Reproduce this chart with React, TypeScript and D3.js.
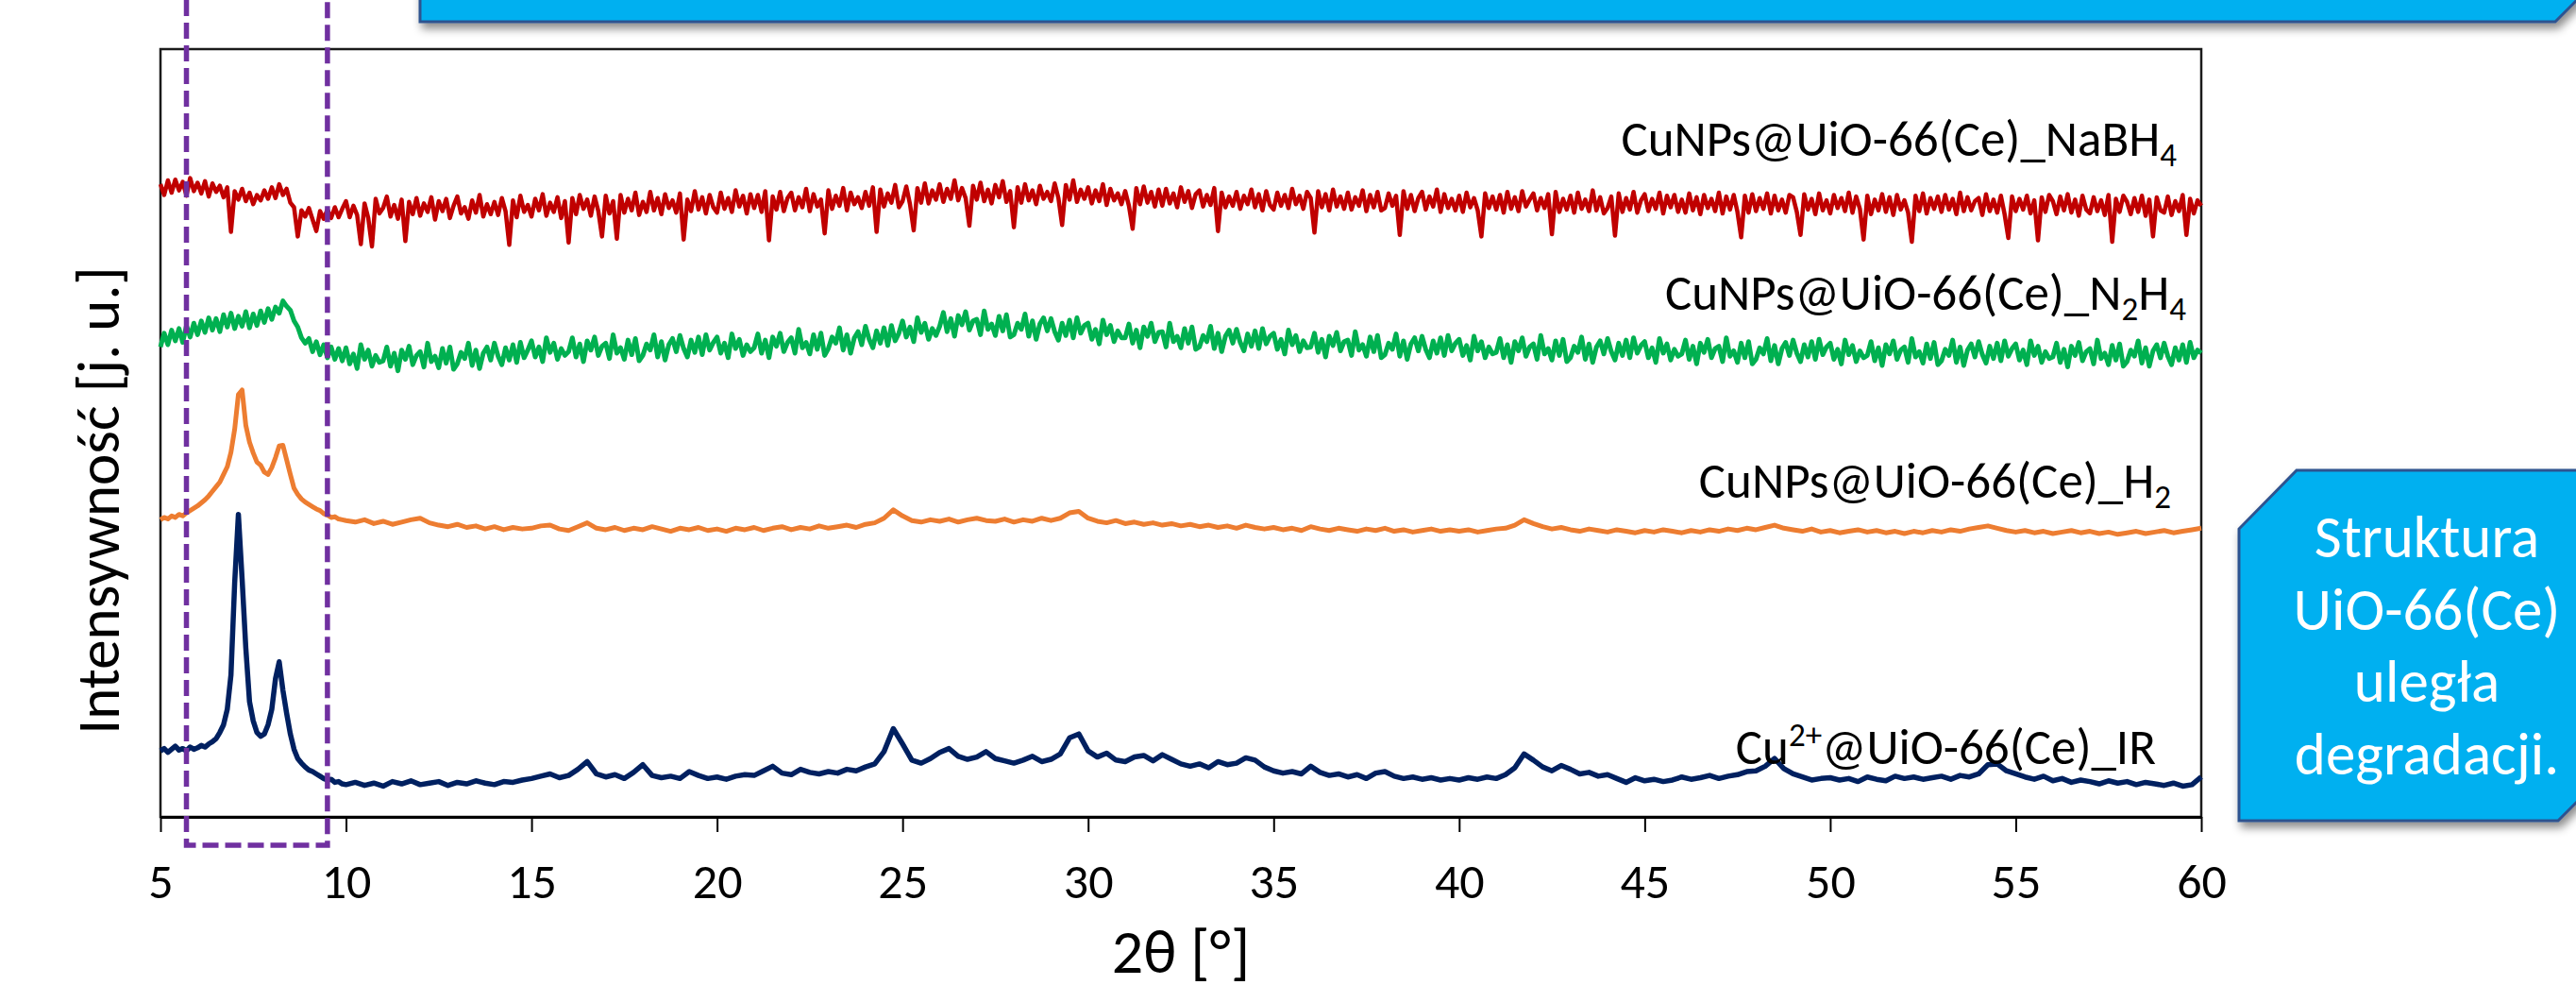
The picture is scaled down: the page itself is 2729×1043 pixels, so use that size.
import React, { useEffect, useRef } from 'react';
import * as d3 from 'd3';

// 2θ sampling. Noisy patterns (NaBH4, N2H4) are read every 0.1°;
// the smoother ones (H2, IR) every 0.1° up to 10° and every 0.25° above.
const gridStart = 5;
const fineStep = 0.1;
const fineCount = 50;
const coarseStart = 10;
const coarseStep = 0.25;

const xTicks = [5, 10, 15, 20, 25, 30, 35, 40, 45, 50, 55, 60];

// intensities in a.u. (stacked as plotted, 0 = bottom axis, 100 = top of frame)
const irValues = [
  8.6, 8.9, 8.4, 8.8, 9.2, 8.7, 8.9, 8.6, 9.1, 8.8,
  9.0, 9.3, 9.1, 9.5, 9.8, 10.2, 11.0, 12.0, 14.0, 18.5,
  30.5, 39.4, 31.0, 22.0, 15.0, 12.5, 11.0, 10.5, 10.8, 12.0,
  14.0, 18.0, 20.2, 16.5, 13.5, 10.8, 8.8, 7.6, 7.0, 6.5,
  6.1, 5.9, 5.6, 5.3, 5.0, 4.8, 4.9, 4.5, 4.6, 4.3,
  4.2, 4.5, 4.1, 4.4, 4.0, 4.6, 4.3, 4.7, 4.2, 4.4, 4.6, 4.1, 4.5, 4.3, 4.7, 4.4, 4.2, 4.6, 4.5, 4.8,
  5.0, 5.3, 5.6, 5.1, 5.4, 6.2, 7.2, 5.6, 5.2, 5.5, 5.0, 5.8, 6.8, 5.4, 5.1, 5.3, 5.0, 5.9, 5.4, 5.0,
  5.2, 4.9, 5.3, 5.5, 5.4, 6.0, 6.6, 5.7, 5.5, 6.2, 5.8, 5.6, 5.9, 5.7, 6.2, 6.0, 6.5, 6.9, 8.5, 11.5,
  9.5, 7.4, 7.0, 7.6, 8.4, 8.9, 7.9, 7.5, 7.8, 8.5, 7.6, 7.3, 7.0, 7.4, 7.9, 7.2, 7.5, 8.2, 10.3, 10.8,
  8.6, 7.8, 8.3, 7.4, 7.2, 7.8, 8.0, 7.3, 8.1, 7.5, 6.9, 6.6, 6.9, 6.4, 7.2, 6.8, 7.0, 7.7, 7.4, 6.5,
  6.0, 5.7, 5.9, 5.6, 6.6, 5.8, 5.4, 5.6, 5.2, 5.5, 5.0, 5.7, 5.9, 5.3, 5.0, 5.2, 4.9, 5.1, 4.8, 5.0,
  4.8, 5.1, 4.9, 5.2, 5.0, 5.5, 6.4, 8.2, 7.4, 6.5, 6.0, 6.7, 6.2, 5.6, 5.8, 5.3, 5.5, 5.0, 4.5, 5.1,
  4.7, 4.9, 4.6, 4.8, 5.2, 4.9, 5.1, 5.4, 5.0, 5.3, 5.5, 5.9, 6.0, 6.6, 7.6, 6.3, 5.6, 5.2, 4.8, 5.0,
  5.1, 4.8, 5.0, 4.6, 5.2, 4.9, 4.7, 5.3, 5.0, 5.2, 4.9, 5.1, 5.3, 4.9, 5.4, 5.2, 5.6, 6.8, 6.9, 6.0,
  5.6, 5.2, 4.9, 5.3, 4.7, 5.0, 4.5, 4.8, 4.6, 4.3, 4.7, 4.4, 4.6, 4.2, 4.5, 4.3, 4.1, 4.4, 4.0, 4.2,
  5.2,
];

const h2Values = [
  38.7, 39.0, 38.8, 39.2, 39.0, 39.4, 39.2, 39.6, 39.9, 40.2,
  40.5, 40.9, 41.3, 41.8, 42.4, 43.0, 43.6, 44.6, 45.6, 47.5,
  50.5, 55.0, 55.6, 51.0, 48.8, 47.4, 46.2, 45.8, 44.9, 44.6,
  45.5, 46.8, 48.3, 48.4, 46.5, 44.6, 42.8, 42.0, 41.4, 41.0,
  40.7, 40.4, 40.1, 39.9, 39.5, 39.3, 39.0, 39.1, 38.8, 38.7,
  38.6, 38.4, 38.7, 38.2, 38.5, 38.1, 38.4, 38.7, 38.9, 38.3, 38.0, 37.8, 38.1, 37.7, 37.9, 37.5, 37.8, 37.4, 37.7, 37.5,
  37.6, 37.9, 38.0, 37.5, 37.3, 37.8, 38.3, 37.6, 37.4, 37.7, 37.3, 37.6, 37.4, 37.8, 37.5, 37.2, 37.6, 37.4, 37.7, 37.3,
  37.5, 37.2, 37.6, 37.4, 37.7, 37.3, 37.6, 37.8, 37.4, 37.7, 37.5, 37.9, 37.6, 37.8, 38.0, 37.7, 38.1, 38.3, 38.9, 40.0,
  39.2, 38.6, 38.4, 38.7, 38.5, 38.8, 38.4, 38.7, 38.9, 38.6, 38.5, 38.8, 38.4, 38.7, 38.5, 38.9, 38.6, 38.9, 39.6, 39.8,
  38.9, 38.5, 38.3, 38.6, 38.2, 38.4, 38.1, 38.3, 38.0, 38.2, 37.9, 38.1, 37.8, 38.0, 37.7, 37.9, 37.6, 38.0, 37.7, 37.5,
  37.7, 37.4, 37.6, 37.3, 37.8, 37.5, 37.3, 37.6, 37.4, 37.2, 37.5, 37.3, 37.6, 37.2, 37.4, 37.1, 37.3, 37.5, 37.2, 37.4,
  37.2, 37.4, 37.1, 37.3, 37.5, 37.6, 38.0, 38.7, 38.2, 37.8, 37.5, 37.7, 37.4, 37.2, 37.5, 37.3, 37.1, 37.4, 37.2, 37.0,
  37.3, 37.1, 37.4, 37.2, 37.0, 37.3, 37.1, 37.4, 37.2, 37.5, 37.3, 37.6, 37.4, 37.7, 38.0, 37.6, 37.4, 37.2, 37.5, 37.1,
  37.3, 37.0, 37.2, 37.4, 37.1, 37.3, 37.0, 37.2, 36.9, 37.2, 37.0, 37.3, 37.1, 37.4, 37.2, 37.5, 37.7, 37.9, 37.6, 37.3,
  37.1, 37.3, 37.0, 37.2, 36.9, 37.1, 37.3, 37.0, 37.2, 36.9, 37.1, 36.8, 37.0, 37.2, 36.9, 37.1, 37.3, 37.0, 37.2, 37.4,
  37.6,
];

// one row per degree (0.1° steps), from 5° to 60°
const n2h4Values = [
  61.2, 63.0, 61.5, 63.4, 62.0, 63.6, 61.8, 64.0, 62.5, 64.3,
  62.8, 64.6, 63.1, 65.0, 63.4, 64.9, 63.2, 65.4, 63.8, 65.6,
  63.6, 65.2, 63.9, 65.8, 63.7, 65.5, 64.0, 65.9, 64.4, 66.2,
  64.8, 66.4, 65.6, 67.2, 66.5, 66.0, 64.6, 63.8, 62.4, 61.7,
  62.3, 60.6, 61.9, 60.2, 61.5, 59.8, 61.2, 59.6, 61.0, 59.4,
  61.1, 59.0, 60.3, 58.4, 61.5, 59.6, 60.8, 58.7, 60.1, 59.2,
  59.4, 61.2, 58.7, 60.4, 58.1, 60.8, 59.6, 61.3, 58.9, 60.1,
  60.6, 58.6, 61.7, 59.3, 60.0, 58.5, 61.0, 59.1, 61.2, 58.3,
  59.0, 60.5, 59.7, 61.7, 58.8, 60.8, 58.4, 60.4, 61.2, 59.5,
  61.7, 60.0, 58.9, 61.1, 59.5, 61.5, 59.2, 61.8, 59.8, 60.8,
  62.0, 59.9, 61.2, 59.3, 62.4, 60.5, 61.7, 59.6, 61.0, 60.1,
  60.6, 62.4, 59.9, 61.6, 59.3, 62.0, 60.8, 62.5, 60.1, 61.3,
  61.7, 59.7, 62.8, 60.4, 61.1, 59.6, 62.1, 60.2, 62.3, 59.4,
  60.1, 61.6, 60.8, 62.8, 59.9, 61.9, 59.5, 61.5, 62.3, 60.6,
  62.7, 61.0, 59.9, 62.1, 60.5, 62.5, 60.2, 62.8, 60.8, 61.8,
  62.5, 60.4, 61.7, 59.8, 62.9, 61.0, 62.2, 60.1, 61.5, 60.6,
  61.1, 62.9, 60.4, 62.1, 59.8, 62.5, 61.3, 63.0, 60.6, 61.8,
  62.4, 60.4, 63.5, 61.1, 61.8, 60.3, 62.8, 60.9, 63.0, 60.1,
  61.0, 62.5, 61.7, 63.7, 60.8, 62.8, 60.4, 62.4, 63.2, 61.5,
  63.9, 62.2, 61.1, 63.3, 61.7, 63.7, 61.4, 64.0, 62.0, 63.0,
  64.6, 62.5, 63.8, 61.9, 65.0, 63.1, 64.3, 62.2, 63.6, 62.7,
  63.9, 65.7, 63.2, 64.9, 62.6, 65.3, 64.1, 65.8, 63.4, 64.6,
  64.8, 62.8, 65.9, 63.5, 64.2, 62.7, 65.2, 63.3, 65.4, 62.5,
  62.8, 64.3, 63.5, 65.5, 62.6, 64.6, 62.2, 64.2, 65.0, 63.3,
  64.9, 63.2, 62.1, 64.3, 62.7, 64.7, 62.4, 65.0, 63.0, 64.0,
  64.3, 62.2, 63.5, 61.6, 64.7, 62.8, 64.0, 61.9, 63.3, 62.4,
  62.4, 64.2, 61.7, 63.4, 61.1, 63.8, 62.6, 64.3, 61.9, 63.1,
  63.2, 61.2, 64.3, 61.9, 62.6, 61.1, 63.6, 61.7, 63.8, 60.9,
  61.2, 62.7, 61.9, 63.9, 61.0, 63.0, 60.6, 62.6, 63.4, 61.7,
  63.5, 61.8, 60.7, 62.9, 61.3, 63.3, 61.0, 63.6, 61.6, 62.6,
  63.0, 60.9, 62.2, 60.3, 63.4, 61.5, 62.7, 60.6, 62.0, 61.1,
  61.2, 63.0, 60.5, 62.2, 59.9, 62.6, 61.4, 63.1, 60.7, 61.9,
  62.1, 60.1, 63.2, 60.8, 61.5, 60.0, 62.5, 60.6, 62.7, 59.8,
  60.2, 61.7, 60.9, 62.9, 60.0, 62.0, 59.6, 61.6, 62.4, 60.7,
  62.6, 60.9, 59.8, 62.0, 60.4, 62.4, 60.1, 62.7, 60.7, 61.7,
  62.2, 60.1, 61.4, 59.5, 62.6, 60.7, 61.9, 59.8, 61.2, 60.3,
  60.5, 62.3, 59.8, 61.5, 59.2, 61.9, 60.7, 62.4, 60.0, 61.2,
  61.6, 59.6, 62.7, 60.3, 61.0, 59.5, 62.0, 60.1, 62.2, 59.3,
  59.8, 61.3, 60.5, 62.5, 59.6, 61.6, 59.2, 61.2, 62.0, 60.3,
  62.3, 60.6, 59.5, 61.7, 60.1, 62.1, 59.8, 62.4, 60.4, 61.4,
  61.9, 59.8, 61.1, 59.2, 62.3, 60.4, 61.6, 59.5, 60.9, 60.0,
  60.3, 62.1, 59.6, 61.3, 59.0, 61.7, 60.5, 62.2, 59.8, 61.0,
  61.3, 59.3, 62.4, 60.0, 60.7, 59.2, 61.7, 59.8, 61.9, 59.0,
  59.6, 61.1, 60.3, 62.3, 59.4, 61.4, 59.0, 61.0, 61.8, 60.1,
  62.1, 60.4, 59.3, 61.5, 59.9, 61.9, 59.6, 62.2, 60.2, 61.2,
  61.7, 59.6, 60.9, 59.0, 62.1, 60.2, 61.4, 59.3, 60.7, 59.8,
  60.1, 61.9, 59.4, 61.1, 58.8, 61.5, 60.3, 62.0, 59.6, 60.8,
  61.2, 59.2, 62.3, 59.9, 60.6, 59.1, 61.6, 59.7, 61.8, 58.9,
  59.4, 60.9, 60.1, 62.1, 59.2, 61.2, 58.8, 60.8, 61.6, 59.9,
  61.9, 60.2, 59.1, 61.3, 59.7, 61.7, 59.4, 62.0, 60.0, 61.0,
  61.6, 59.5, 60.8, 58.9, 62.0, 60.1, 61.3, 59.2, 60.6, 59.7,
  59.9, 61.7, 59.2, 60.9, 58.6, 61.3, 60.1, 61.8, 59.4, 60.6,
  61.0, 59.0, 62.1, 59.7, 60.4, 58.9, 61.4, 59.5, 61.6, 58.7,
  59.3, 60.8, 60.0, 62.0, 59.1, 61.1, 58.7, 60.7, 61.5, 59.8,
  61.7, 60.0, 58.9, 61.1, 59.5, 61.5, 59.2, 61.8, 59.8, 60.8,
  60.4,
];

const nabh4Values = [
  82.4, 81.0, 82.9, 81.3, 83.0, 81.6, 82.7, 80.9, 83.2, 81.5,
  82.6, 81.2, 82.8, 80.8, 82.5, 81.4, 82.2, 80.7, 82.0, 76.2,
  81.5, 80.4, 81.8, 80.2, 81.3, 79.8, 81.0, 80.3, 81.6, 80.5,
  82.0, 80.6, 82.4, 81.0, 81.8, 80.0, 79.4, 75.6, 79.0, 78.2,
  79.3, 77.8, 76.3, 78.9, 77.9, 79.1, 78.0, 79.4, 78.1, 79.2,
  80.2, 78.1, 79.6, 78.4, 74.6, 79.9, 78.0, 74.3, 80.5, 78.6,
  79.3, 80.8, 78.2, 79.7, 77.9, 80.4, 75.0, 80.1, 78.5, 80.6,
  78.3, 79.9, 78.8, 80.7, 77.8, 80.2, 78.9, 80.5, 78.0, 79.6,
  80.8, 78.6, 79.4, 77.9, 80.3, 78.7, 81.0, 78.2, 79.8, 78.5,
  80.1, 78.4, 80.6, 78.9, 74.5, 80.3, 78.1, 80.9, 78.8, 79.7,
  78.2, 80.5, 79.0, 81.1, 78.3, 80.0, 78.8, 80.7, 78.0, 80.2,
  74.8, 80.6, 78.5, 81.0, 79.2, 80.4, 78.3, 80.8, 78.9, 75.6,
  80.9, 78.6, 80.2, 75.3, 81.0, 78.7, 80.5, 79.0, 81.3, 78.4,
  80.1, 78.8, 81.4, 79.0, 80.6, 78.5, 81.1, 79.3, 80.3, 78.7,
  81.2, 75.2, 80.4, 78.9, 81.5, 79.1, 80.7, 78.6, 81.0, 79.4,
  78.7, 81.3, 79.2, 80.6, 78.8, 81.6, 79.5, 80.9, 78.6, 81.1,
  79.3, 81.0, 78.8, 81.5, 75.1, 80.8, 79.1, 81.4, 78.9, 80.6,
  81.3, 79.0, 80.7, 79.4, 81.8, 78.9, 81.1, 79.5, 80.4, 76.0,
  81.6, 79.2, 80.9, 79.6, 81.9, 79.0, 81.3, 79.8, 80.7, 79.3,
  81.4, 79.6, 82.0, 76.2, 81.7, 79.5, 81.2, 80.0, 82.3, 79.4,
  80.2, 82.1, 79.8, 76.4, 81.9, 80.0, 82.5, 79.9, 81.6, 80.4,
  82.4, 80.1, 81.8, 80.5, 82.9, 80.3, 81.9, 80.6, 77.0, 82.2,
  80.4, 82.6, 80.2, 81.7, 79.9, 82.3, 80.7, 82.8, 80.1, 81.5,
  76.8, 82.0, 80.0, 82.4, 80.3, 81.6, 79.8, 82.2, 80.5, 81.4,
  80.2, 82.5, 80.6, 77.1, 82.3, 80.4, 82.9, 80.1, 81.7, 80.5,
  82.0, 79.9, 81.6, 80.2, 82.4, 79.7, 81.8, 80.3, 81.2, 79.8,
  81.5, 79.6, 76.6, 81.9, 79.8, 82.1, 80.0, 81.4, 79.5, 81.7,
  79.6, 81.8, 79.9, 81.2, 79.4, 82.0, 80.1, 81.5, 79.3, 81.1,
  81.6, 79.5, 81.0, 79.7, 81.9, 76.3, 81.3, 79.4, 80.8, 79.6,
  81.4, 79.2, 80.9, 79.8, 81.7, 79.4, 81.1, 79.0, 81.5, 79.7,
  79.1, 81.3, 79.6, 81.0, 79.3, 81.8, 79.8, 80.9, 79.2, 81.4,
  80.6, 76.1, 81.5, 79.4, 81.1, 79.0, 81.7, 79.5, 80.8, 79.2,
  81.3, 79.1, 80.7, 79.6, 81.6, 78.9, 81.0, 79.4, 81.4, 79.0,
  79.3, 81.2, 79.6, 80.9, 75.8, 81.5, 79.2, 81.0, 78.9, 80.6,
  81.4, 79.1, 80.8, 79.5, 81.7, 78.8, 81.1, 79.3, 80.5, 79.0,
  80.9, 78.8, 81.3, 79.4, 80.6, 79.0, 75.6, 81.2, 79.3, 80.8,
  79.1, 81.0, 78.7, 81.4, 79.2, 80.7, 78.9, 81.5, 79.5, 80.4,
  81.2, 79.0, 80.6, 79.3, 81.1, 75.9, 81.4, 78.8, 80.5, 79.1,
  80.9, 78.7, 81.3, 79.2, 80.4, 78.9, 81.6, 79.0, 80.7, 78.6,
  79.3, 80.8, 75.7, 81.2, 78.8, 80.6, 79.1, 81.4, 78.7, 80.3,
  81.1, 78.9, 80.5, 79.2, 81.3, 78.6, 80.9, 79.4, 81.0, 78.8,
  80.4, 78.7, 81.2, 79.0, 80.7, 78.5, 81.0, 79.3, 80.5, 78.9,
  81.3, 78.6, 80.8, 79.1, 81.0, 78.8, 75.5, 80.9, 78.7, 81.1,
  78.9, 80.6, 79.2, 81.2, 78.6, 80.9, 79.0, 80.4, 78.7, 81.0,
  80.7, 78.8, 75.8, 81.1, 79.1, 80.5, 78.5, 81.2, 79.0, 80.3,
  78.6, 81.0, 79.3, 80.6, 78.9, 81.3, 78.7, 80.8, 79.2, 75.2,
  80.9, 78.5, 80.4, 79.0, 81.1, 78.8, 80.7, 78.4, 81.0, 79.1,
  80.3, 78.7, 74.9, 80.9, 78.9, 81.2, 78.6, 80.6, 79.2, 80.8,
  78.8, 81.0, 79.1, 80.5, 78.5, 81.3, 78.9, 80.7, 79.0, 80.2,
  80.6, 78.4, 81.1, 78.9, 80.4, 78.7, 80.9, 78.5, 75.4, 80.8,
  78.9, 80.5, 79.1, 80.9, 78.6, 80.3, 75.1, 80.7, 78.8, 81.0,
  80.2, 78.5, 80.8, 79.0, 81.1, 78.7, 80.4, 78.3, 80.9, 79.1,
  78.6, 80.7, 78.9, 80.3, 78.4, 81.0, 74.9, 80.5, 78.8, 80.9,
  80.1, 78.5, 80.6, 78.8, 80.9, 78.3, 80.4, 75.6, 80.7, 79.0,
  78.7, 80.8, 78.4, 80.2, 78.9, 81.0, 75.8, 80.5, 78.6, 80.3,
  79.6,
];

const denseTheta = (i: number) => gridStart + i * fineStep;
const mixedTheta = (i: number) =>
  i < fineCount ? gridStart + i * fineStep : coarseStart + (i - fineCount) * coarseStep;

const seriesValues = [nabh4Values, n2h4Values, h2Values, irValues];
const seriesGrid = [denseTheta, denseTheta, mixedTheta, mixedTheta];
const seriesColors = ['#C00000', '#00B050', '#ED7D31', '#002060'];
const seriesWidths = [4.5, 5, 5, 5.5];

const font = "Calibri, Carlito, 'Open Sans', sans-serif";

const W = 2729;
const H = 1043;
const plot = { left: 170, right: 2332, top: 52, bottom: 865 };

export default function App() {
  const axisRef = useRef<SVGGElement>(null);

  const x = d3.scaleLinear().domain([5, 60]).range([plot.left, plot.right]);
  const y = d3.scaleLinear().domain([0, 100]).range([plot.bottom, plot.top]);

  useEffect(() => {
    const g = d3.select(axisRef.current);
    g.selectAll('*').remove();
    g.call(
      d3
        .axisBottom(x)
        .tickValues(xTicks)
        .tickSize(16)
        .tickSizeOuter(0)
        .tickFormat(d3.format('d'))
    );
    g.attr('font-size', null).attr('font-family', null);
    g.select('.domain').attr('stroke', '#000').attr('stroke-width', 3);
    g.selectAll('.tick line').attr('stroke', '#000').attr('stroke-width', 2);
    g.selectAll('.tick text')
      .attr('y', 86)
      .attr('dy', 0)
      .attr('fill', '#000')
      .attr('font-size', 52)
      .attr('font-family', font);
  }, []);

  const boxLeft = x(5.7);
  const boxRight = x(9.5);

  return (
    <svg
      width={W}
      height={H}
      style={{ position: 'absolute', left: 0, top: 0, display: 'block', background: '#fff' }}
    >
      <defs>
        <filter id="shadow" x="-10%" y="-20%" width="130%" height="150%">
          <feDropShadow dx="3" dy="6" stdDeviation="5" floodColor="#000" floodOpacity="0.45" />
        </filter>
      </defs>

      {/* callout boxes */}
      <polygon
        points="445,-60 2790,-60 2707,23 445,23"
        fill="#00B0F0"
        stroke="#2F528F"
        strokeWidth={3}
        filter="url(#shadow)"
      />
      <polygon
        points="2433,498 2780,498 2780,799 2710,869 2372,869 2372,560"
        fill="#00B0F0"
        stroke="#2F528F"
        strokeWidth={3}
        filter="url(#shadow)"
      />
      <g fill="#fff" fontFamily={font} fontSize={63} textAnchor="middle">
        <text x={2571} y={590}>Struktura</text>
        <text x={2571} y={667}>UiO-66(Ce)</text>
        <text x={2571} y={743}>uległa</text>
        <text x={2571} y={820}>degradacji.</text>
      </g>

      {/* frame */}
      <rect
        x={plot.left}
        y={plot.top}
        width={plot.right - plot.left}
        height={plot.bottom - plot.top}
        fill="none"
        stroke="#1a1a1a"
        strokeWidth={2.5}
      />
      <g ref={axisRef} transform={`translate(0,${plot.bottom})`} />

      {/* patterns */}
      {seriesValues.map((vals, k) => {
        const line = d3
          .line<number>()
          .x((_, i) => x(seriesGrid[k](i)))
          .y((d) => y(d));
        return (
          <path
            key={k}
            d={line(vals) || ''}
            fill="none"
            stroke={seriesColors[k]}
            strokeWidth={seriesWidths[k]}
            strokeLinejoin="round"
          />
        );
      })}

      {/* labels */}
      <g fontFamily={font} fontSize={53} fill="#000" textAnchor="end">
        <text x={2306} y={165}>
          CuNPs@UiO-66(Ce)_NaBH<tspan dy={11} fontSize={35}>4</tspan>
        </text>
        <text x={2316} y={328}>
          CuNPs@UiO-66(Ce)_N<tspan dy={11} fontSize={35}>2</tspan>
          <tspan dy={-11}>H</tspan>
          <tspan dy={11} fontSize={35}>4</tspan>
        </text>
        <text x={2300} y={527}>
          CuNPs@UiO-66(Ce)_H<tspan dy={11} fontSize={35}>2</tspan>
        </text>
        <text x={2284} y={809}>
          Cu<tspan dy={-19} fontSize={35}>2+</tspan>
          <tspan dy={19}>@UiO-66(Ce)_IR</tspan>
        </text>
      </g>

      {/* axis titles */}
      <text
        x={(plot.left + plot.right) / 2}
        y={1030}
        textAnchor="middle"
        fontFamily={font}
        fontSize={66}
        fill="#000"
      >
        2θ [°]
      </text>
      <text
        transform={`translate(126,${530}) rotate(-90)`}
        textAnchor="middle"
        fontFamily={font}
        fontSize={63}
        fill="#000"
      >
        Intensywność [j. u.]
      </text>

      {/* highlighted region */}
      <path
        d={`M${boxLeft},0 V895 H${boxRight} V0`}
        fill="none"
        stroke="#7030A0"
        strokeWidth={5.5}
        strokeDasharray="17,7"
      />
    </svg>
  );
}
